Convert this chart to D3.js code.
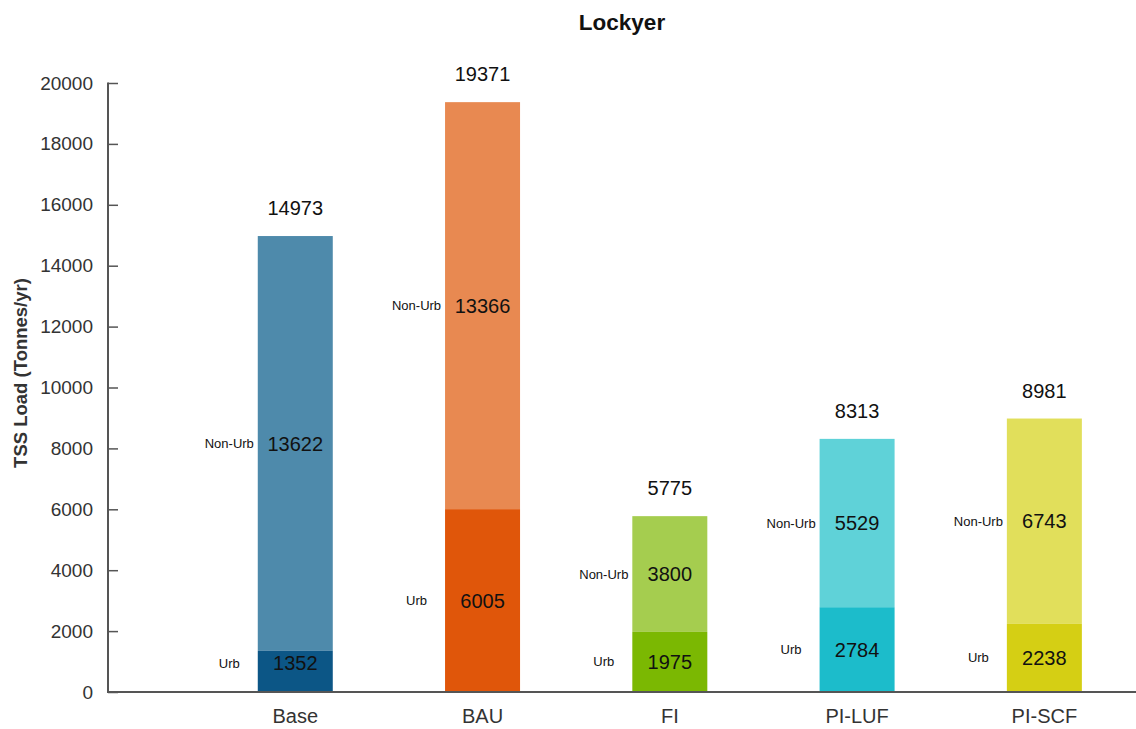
<!DOCTYPE html>
<html><head><meta charset="utf-8">
<script src="https://cdn.jsdelivr.net/npm/d3@7"></script>
<style>body{margin:0;background:#fff;} text{font-family:"Liberation Sans",Arial,sans-serif;}</style>
</head><body>
<svg id="c" width="1136" height="729"></svg>
<script>
const categories = ["Base","BAU","FI","PI-LUF","PI-SCF"];
const urb = [1352, 6005, 1975, 2784, 2238];
const nonUrb = [13622, 13366, 3800, 5529, 6743];
const totals = [14973, 19371, 5775, 8313, 8981];
const urbColors = ["#0c5686","#e0560a","#7bb802","#1cbccb","#d5cf14"];
const nonUrbColors = ["#4e8aab","#e88951","#a5cd4f","#5fd2d8","#e1df5b"];
const yTicks = [0,2000,4000,6000,8000,10000,12000,14000,16000,18000,20000];

const svg = d3.select("#c");
const x = d3.scaleLinear().domain([0,5.5]).range([108,1138]);
const y = d3.scaleLinear().domain([0,20000]).range([692,83]);
const bw = 75;

svg.append("text").attr("x",622).attr("y",30).attr("text-anchor","middle")
  .attr("font-size",22.5).attr("font-weight","bold").attr("fill","#111").text("Lockyer");

// y axis
const ya = svg.append("g").attr("transform","translate(108,0)")
  .call(d3.axisRight(y).tickValues(yTicks).tickSize(10).tickFormat(d3.format("d")));
ya.select(".domain").remove();
ya.selectAll(".tick line").attr("stroke","#555").attr("stroke-width",1.5);
ya.selectAll(".tick text").attr("x",-15).attr("text-anchor","end").attr("font-size",19)
  .attr("fill","#333").attr("font-family","Liberation Sans, Arial, sans-serif");
svg.append("line").attr("x1",108).attr("x2",108).attr("y1",y(20000)-0.5).attr("y2",y(0))
  .attr("stroke","#555").attr("stroke-width",2);

// bars
categories.forEach((c,i)=>{
  const cx = x(i+1);
  svg.append("rect").attr("x",cx-bw/2).attr("width",bw)
    .attr("y",y(urb[i]+nonUrb[i])).attr("height",y(urb[i])-y(urb[i]+nonUrb[i])).attr("fill",nonUrbColors[i]);
  svg.append("rect").attr("x",cx-bw/2).attr("width",bw)
    .attr("y",y(urb[i])).attr("height",y(0)-y(urb[i])).attr("fill",urbColors[i]);
  const ym1 = Math.min(y(urb[i]/2), 663), ym2 = y(urb[i]+nonUrb[i]/2);
  svg.append("text").attr("x",cx).attr("y",ym1).attr("dy","0.36em").attr("text-anchor","middle")
    .attr("font-size",20).attr("fill","#111").text(urb[i]);
  svg.append("text").attr("x",cx).attr("y",ym2).attr("dy","0.36em").attr("text-anchor","middle")
    .attr("font-size",20).attr("fill","#111").text(nonUrb[i]);
  svg.append("text").attr("x",cx-bw/2-28.5).attr("y",ym1).attr("dy","0.35em").attr("text-anchor","middle")
    .attr("font-size",13).attr("fill","#111").text("Urb");
  svg.append("text").attr("x",cx-bw/2-28.5).attr("y",ym2).attr("dy","0.35em").attr("text-anchor","middle")
    .attr("font-size",13).attr("fill","#111").text("Non-Urb");
  svg.append("text").attr("x",cx).attr("y",y(totals[i])-21).attr("text-anchor","middle")
    .attr("font-size",20).attr("fill","#111").text(totals[i]);
  svg.append("text").attr("x",cx).attr("y",723).attr("text-anchor","middle")
    .attr("font-size",20).attr("fill","#333").text(c);
});

// x axis line
svg.append("line").attr("x1",107).attr("x2",1136).attr("y1",y(0)).attr("y2",y(0))
  .attr("stroke","#555").attr("stroke-width",2);

svg.append("text").attr("transform","translate(27,373) rotate(-90)").attr("text-anchor","middle")
  .attr("font-size",18.5).attr("font-weight","bold").attr("fill","#333").text("TSS Load (Tonnes/yr)");
</script>
</body></html>
